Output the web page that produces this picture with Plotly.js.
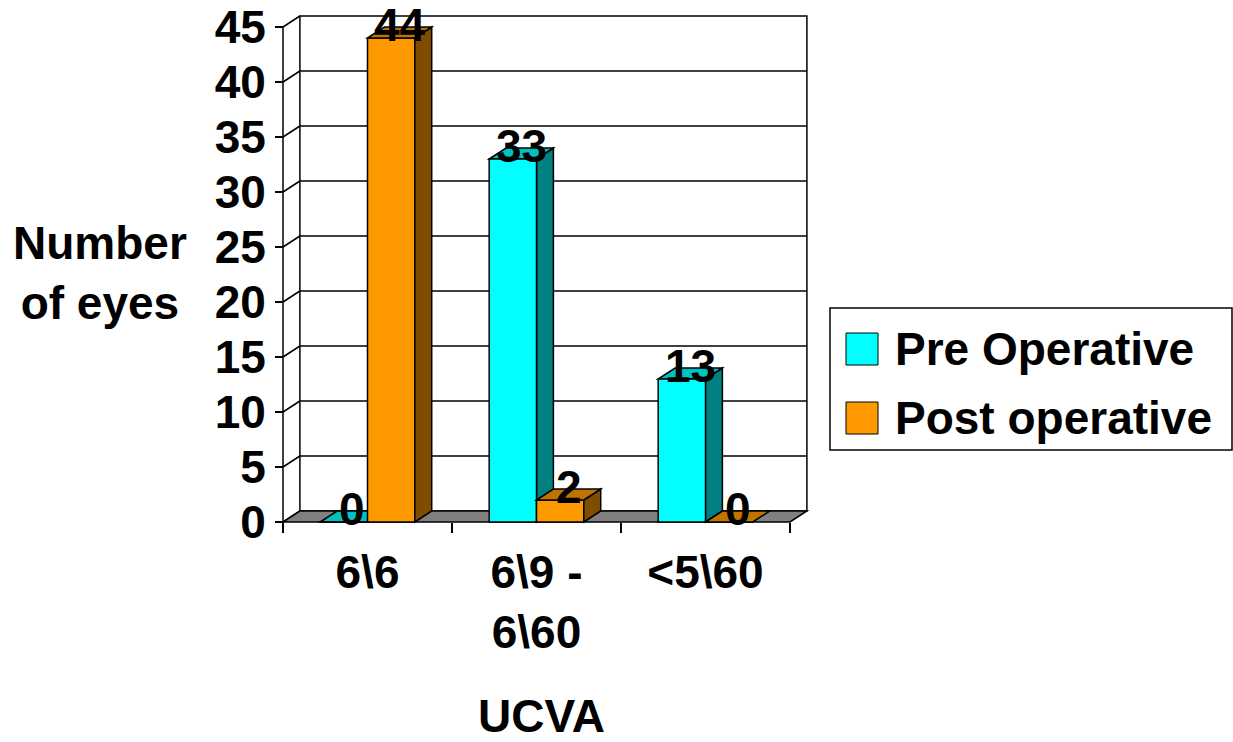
<!DOCTYPE html>
<html>
<head>
<meta charset="utf-8">
<script src="https://cdn.plot.ly/plotly-3.0.1.min.js"></script>
<style>
  html, body { margin: 0; padding: 0; background: #fff; }
  #chart { width: 1233px; height: 742px; }
</style>
</head>
<body>
<div id="chart"></div>
<script>
// ---- data ----
const categories = ['6\\6', '6\\9 -<br>6\\60', '<5\\60'];
const preOperative = [0, 33, 13];
const postOperative = [44, 2, 0];
const seriesNames = ['Pre Operative', 'Post operative'];
const yTickValues = [0, 5, 10, 15, 20, 25, 30, 35, 40, 45];
const xTitle = 'UCVA';
const yTitle = 'Number<br>of eyes';

// ---- look ----
const FONT = 'Liberation Sans, Arial, Helvetica, sans-serif';
const FS = 46;
const W = 1233, H = 742;
// plot frame (pixels)
const PL = 278, PR = 812, PT = 10, PB = 527;
// front-left corner of the floor and pixel size of one unit
const FRONT_X = 283, FRONT_Y = 522, UX = 169, UY = 11;
// depth of the box in axis units (x in categories, y in values)
const DX = 0.1, DY = 1;
const BAR_W = 0.28;
const Y_TOP = yTickValues[yTickValues.length - 1];

const xRange = [-0.5 - (FRONT_X - PL) / UX, -0.5 + (PR - FRONT_X) / UX];
const yRange = [-(PB - FRONT_Y) / UY, (FRONT_Y - PT) / UY];
const fx = px => (px - PL) / (PR - PL);
const fy = py => (PB - py) / (PB - PT);

const palette = {
  pre:  { front: '#00FFFF', side: '#008080', top: '#00C0C0' },
  post: { front: '#FF9900', side: '#804C00', top: '#C07400' }
};
const LINE = { color: '#000000', width: 1.5 };
const n = categories.length;
const xL = -0.5, xR = n - 0.5;

function poly(pts, fill, layer) {
  return {
    type: 'path', xref: 'x', yref: 'y', layer: layer,
    path: 'M' + pts.map(p => p[0] + ',' + p[1]).join('L') + 'Z',
    fillcolor: fill, line: LINE
  };
}
function seg(x0, y0, x1, y1) {
  return { type: 'line', xref: 'x', yref: 'y', layer: 'below', x0, y0, x1, y1, line: LINE };
}
// right side and top faces of each column
function barFaces(vals, offset, c, layer) {
  const out = [];
  vals.forEach((v, i) => {
    const x0 = i + offset, x1 = x0 + BAR_W;
    if (v > 0) out.push(poly([[x1, 0], [x1 + DX, DY], [x1 + DX, v + DY], [x1, v]], c.side, layer));
    out.push(poly([[x0, v], [x0 + DX, v + DY], [x1 + DX, v + DY], [x1, v]], c.top, layer));
  });
  return out;
}

const shapes = [];
// back wall
shapes.push({ type: 'rect', xref: 'x', yref: 'y', layer: 'below',
  x0: xL + DX, x1: xR + DX, y0: DY, y1: Y_TOP + DY, fillcolor: '#FFFFFF', line: LINE });
// back wall gridlines
yTickValues.forEach(v => { if (v > 0 && v < Y_TOP) shapes.push(seg(xL + DX, v + DY, xR + DX, v + DY)); });
// side wall lines
yTickValues.forEach(v => shapes.push(seg(xL, v, xL + DX, v + DY)));
shapes.push(seg(xL, 0, xL, Y_TOP));
// floor
shapes.push(poly([[xL, 0], [xR, 0], [xR + DX, DY], [xL + DX, DY]], '#808080', 'below'));
// column faces: the left series sits behind the right one
shapes.push(...barFaces(preOperative, -BAR_W, palette.pre, 'below'));
shapes.push(...barFaces(postOperative, 0, palette.post, 'above'));

// legend box
const legendBox = { x0: 830, x1: 1232, y0: 308, y1: 450 };
shapes.push({ type: 'rect', xref: 'paper', yref: 'paper',
  x0: fx(legendBox.x0), x1: fx(legendBox.x1), y0: fy(legendBox.y1), y1: fy(legendBox.y0),
  fillcolor: '#FFFFFF', line: LINE });
const legendRows = [349, 418];
const legendColors = [palette.pre.front, palette.post.front];
legendRows.forEach((cy, k) => {
  shapes.push({ type: 'rect', xref: 'paper', yref: 'paper',
    x0: fx(846), x1: fx(878), y0: fy(cy + 16), y1: fy(cy - 16),
    fillcolor: legendColors[k], line: { color: '#000', width: 1 } });
});

const font = { family: FONT, size: FS, color: '#000', weight: 'bold' };

const annotations = [];
// value labels on top of each column
function addLabels(vals, offset) {
  vals.forEach((v, i) => {
    annotations.push({
      xref: 'x', yref: 'y', x: i + offset + BAR_W / 2 + DX / 2, y: v + 1.18,
      text: String(v), showarrow: false, xanchor: 'center', yanchor: 'middle', font: font
    });
  });
}
addLabels(preOperative, -BAR_W);
addLabels(postOperative, 0);
// legend labels
seriesNames.forEach((name, k) => {
  annotations.push({ xref: 'paper', yref: 'paper', x: fx(893), y: fy(legendRows[k]),
    text: name, showarrow: false, xanchor: 'left', yanchor: 'middle', font: font });
});
// axis titles
annotations.push({ xref: 'paper', yref: 'paper', x: fx(100), y: fy(273), text: yTitle,
  showarrow: false, xanchor: 'center', yanchor: 'middle', align: 'center', font: font });
annotations.push({ xref: 'paper', yref: 'paper', x: fx(541), y: fy(716), text: xTitle,
  showarrow: false, xanchor: 'center', yanchor: 'middle', font: font });

const traces = [
  { type: 'bar', name: seriesNames[0], x: categories, y: preOperative,
    width: BAR_W, offset: -BAR_W, marker: { color: palette.pre.front, line: LINE } },
  { type: 'bar', name: seriesNames[1], x: categories, y: postOperative,
    width: BAR_W, offset: 0, marker: { color: palette.post.front, line: LINE } }
];

const layout = {
  width: W, height: H,
  margin: { l: PL, r: W - PR, t: PT, b: H - PB, pad: 0 },
  paper_bgcolor: '#FFFFFF', plot_bgcolor: '#FFFFFF',
  showlegend: false, barmode: 'overlay',
  font: font,
  xaxis: {
    type: 'category', categoryorder: 'array', categoryarray: categories,
    range: xRange, tickson: 'boundaries', ticks: 'outside', ticklen: 10,
    tickwidth: 1.5, tickcolor: '#000', showgrid: false, zeroline: false, showline: false,
    anchor: 'free', position: fy(FRONT_Y), tickfont: font, ticklabelstandoff: 19,
    fixedrange: true
  },
  yaxis: {
    range: yRange, tickmode: 'array', tickvals: yTickValues,
    ticks: 'outside', ticklen: 8, tickwidth: 1.5, tickcolor: '#000',
    showgrid: false, zeroline: false, showline: false,
    anchor: 'free', position: fx(FRONT_X), tickfont: font, fixedrange: true
  },
  shapes: shapes,
  annotations: annotations
};

Plotly.newPlot('chart', traces, layout, { displayModeBar: false, staticPlot: true });
</script>
</body>
</html>
